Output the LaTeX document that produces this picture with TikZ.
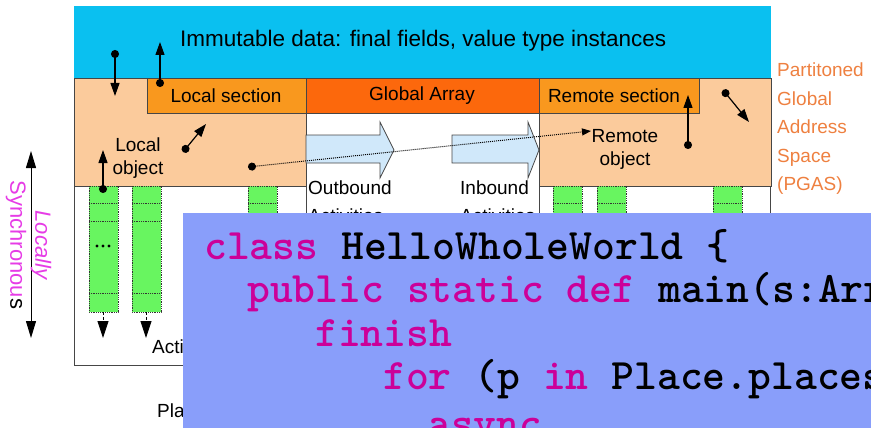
\documentclass[tikz,border=0pt]{standalone}
\usepackage{fontspec}
\setmainfont{Liberation Sans}
\usetikzlibrary{arrows.meta}
\definecolor{cyanbg}{RGB}{10,192,240}
\definecolor{peach}{RGB}{251,203,156}
\definecolor{secorange}{RGB}{249,152,30}
\definecolor{globorange}{RGB}{252,104,12}
\definecolor{lightblue}{RGB}{208,232,250}
\definecolor{greencol}{RGB}{104,245,96}
\definecolor{pgasorange}{RGB}{238,128,64}
\definecolor{magentatxt}{RGB}{230,60,230}
\definecolor{codebg}{RGB}{137,158,250}
\definecolor{kw}{RGB}{204,0,153}
\definecolor{edge}{RGB}{70,70,70}
\begin{document}
\begin{tikzpicture}[x=1pt,y=-1pt,
  edgeline/.style={draw=edge,line width=0.8pt},
  lbl/.style={inner sep=0pt,font=\fontsize{19}{23}\selectfont},
  dotarrow/.style={line width=1.2pt,{Circle[length=8pt]}-{Triangle[length=13pt,width=9pt]}},
  sepline/.style={draw=black!80,densely dotted,line width=0.8pt},
  colarrow/.style={line width=0.9pt,densely dashed,-{Triangle[length=17pt,width=11pt]}},
  blockarrow/.style={fill=lightblue,draw=edge,line width=0.8pt},
  codeline/.style={anchor=base west,inner sep=0pt,font=\fontsize{43.5}{44}\selectfont\ttfamily\bfseries}]
\useasboundingbox (0,0) rectangle (871,428);
% immutable data
\fill[cyanbg] (74,6) rectangle (771,78);
\node[anchor=west,inner sep=0pt,font=\fontsize{22.5}{26}\selectfont] (imm) at (180,41) {Immutable data: final fields, value type instances};
% place boxes
\draw[edgeline] (74,78) rectangle (306,365);
\draw[edgeline] (539,78) rectangle (770,365);
\fill[peach] (74,78) rectangle (306,186);
\fill[peach] (539,78) rectangle (771,186);
\draw[edgeline] (74,78) rectangle (306,186);
\draw[edgeline] (539,78) rectangle (771,186);
% sections
\node[edgeline,fill=secorange,minimum width=159pt,minimum height=35pt,anchor=north west,inner sep=0pt] (lsec) at (147,78) {};
\node[lbl] (lsect) at (226,96) {Local section};
\node[edgeline,fill=globorange,minimum width=233pt,minimum height=35pt,anchor=north west,inner sep=0pt] (gsec) at (306,78) {};
\node[lbl] (gsect) at (422,96) {Global Array};
\node[edgeline,fill=secorange,minimum width=160pt,minimum height=35pt,anchor=north west,inner sep=0pt] (rsec) at (539,78) {};
\node[lbl] (rsect) at (614,96) {Remote section};
% objects
\node[lbl,align=center] (lobj) at (138,158) {Local\\object};
\node[lbl,align=center] (robj) at (625,149) {Remote\\object};
% block arrows
\draw[blockarrow] (306,135) -- (380,135) -- (380,122) -- (394,150) -- (380,178) -- (380,163) -- (306,163) -- cycle;
\draw[blockarrow] (452,135) -- (528,135) -- (528,122) -- (539,150) -- (528,178) -- (528,163) -- (452,163) -- cycle;
\node[lbl,anchor=north west,align=left,font=\fontsize{19}{28}\selectfont] (outb) at (308,181) {Outbound\\Activities};
\node[lbl,anchor=north west,align=left,font=\fontsize{19}{28}\selectfont] (inb) at (460,181) {Inbound\\Activities};
% pgas label
\node[lbl,anchor=north west,align=left,text=pgasorange,font=\fontsize{19}{28.5}\selectfont] (pgas) at (777,63) {Partitoned\\Global\\Address\\Space\\(PGAS)};
% green columns
\foreach \x in {89,132,248,553,597,713} {
  \fill[greencol] (\x,186) rectangle ++(29,126);
  \draw[sepline] (\x,186) rectangle ++(29,126);
  \draw[sepline] (\x,203) -- ++(29,0);
  \draw[sepline] (\x,221) -- ++(29,0);
  \draw[sepline] (\x,293) -- ++(29,0);
}
\fill (97,246) circle (1.6pt) (103,246) circle (1.6pt) (109,246) circle (1.6pt);
\coordinate (c1b) at (103,312); \coordinate (c1e) at (103,338);
\coordinate (c2b) at (146,312); \coordinate (c2e) at (146,338);
\draw[colarrow] (c1b) -- (c1e);
\draw[colarrow] (c2b) -- (c2e);
\node[lbl,anchor=west] (acti) at (152,347) {Activities};
\node[lbl,anchor=west] (places) at (157,411) {Places};
% dot arrows
\coordinate (a1s) at (115,50); \coordinate (a1e) at (115,96);
\coordinate (a2s) at (160,87); \coordinate (a2e) at (160,42);
\coordinate (a3s) at (183,152); \coordinate (a3e) at (206,124);
\coordinate (a4s) at (103,193); \coordinate (a4e) at (103,150);
\coordinate (a5s) at (688,149); \coordinate (a5e) at (688,95);
\coordinate (a6s) at (723,90); \coordinate (a6e) at (749,122);
\foreach \i in {1,...,6} {\draw[dotarrow] (a\i s) -- (a\i e);}
\coordinate (ds) at (248,167); \coordinate (de) at (591,131);
\draw[line width=1pt,densely dotted,{Circle[length=8pt]}-{Triangle[length=9pt,width=7pt]}] (ds) -- (de);
% locally synchronous
\coordinate (ls1) at (31,151); \coordinate (ls2) at (31,338);
\draw[line width=1pt,{Triangle[length=17pt,width=10pt]}-{Triangle[length=17pt,width=10pt]}] (ls1) -- (ls2);
\node[rotate=-90,inner sep=0pt,font=\fontsize{22}{25}\selectfont,align=center] (lsync) at (28.5,245) {\textcolor{magentatxt}{\itshape Locally}\\\textcolor{magentatxt}{Synchronou}s};
% overlay code
\fill[codebg] (183,213) rectangle (871,428);
\begin{scope}
\clip (183,213) rectangle (871,428);
\node[codeline] (l1) at (204,259) {\textcolor{kw}{class} HelloWholeWorld \{};
\node[codeline] (l2) at (247,302.5) {\textcolor{kw}{public static def} main(s:Arr};
\node[codeline] (l3) at (315,346) {\textcolor{kw}{finish}};
\node[codeline] (l4) at (383,389.5) {\textcolor{kw}{for} (p \textcolor{kw}{in} Place.places};
\node[codeline] (l5) at (428,437) {\textcolor{kw}{async}};
\end{scope}
\end{tikzpicture}
\end{document}
